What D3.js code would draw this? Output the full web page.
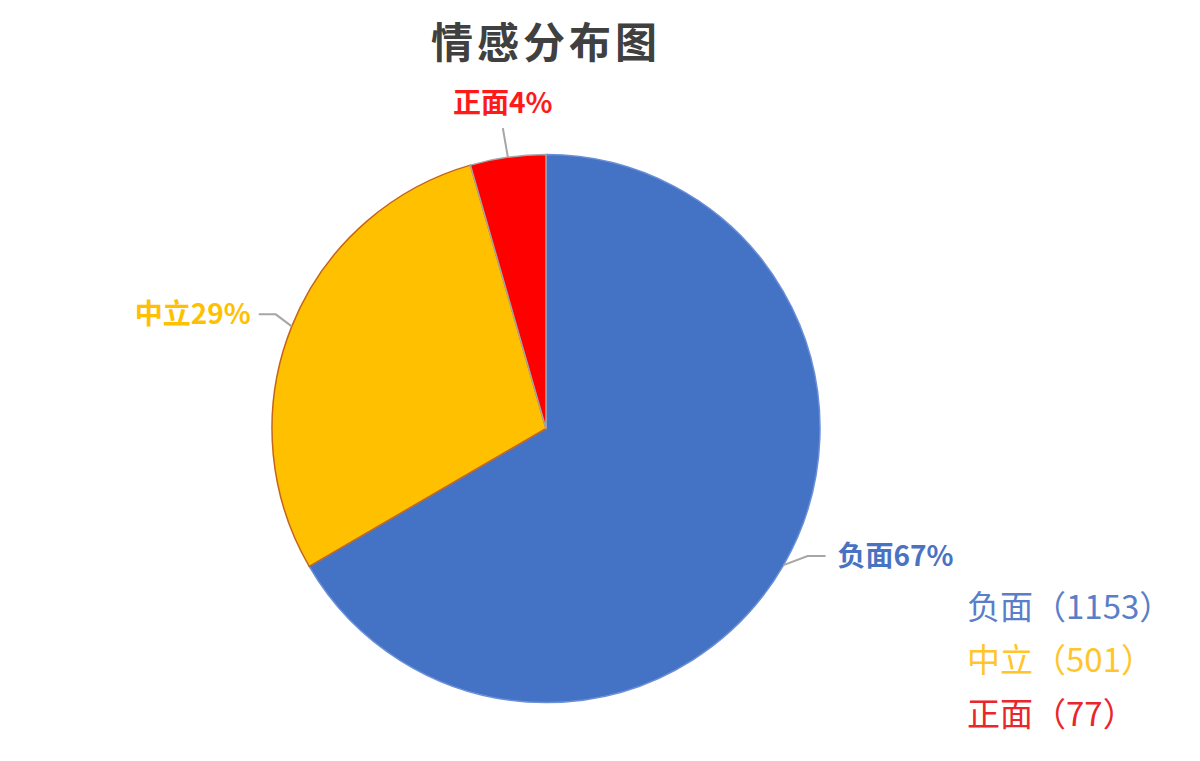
<!DOCTYPE html>
<html>
<head>
<meta charset="utf-8">
<script src="https://cdn.jsdelivr.net/npm/d3@7"></script>
<style>
  html, body { margin: 0; padding: 0; background: #fff; }
  svg { display: block; font-family: "Noto Sans CJK SC", "Noto Sans", sans-serif; }
</style>
</head>
<body>
<svg id="chart" width="1200" height="761"></svg>
<script>
// 数据
var categories = ["负面", "中立", "正面"];
var counts = [1153, 501, 77];
var percentLabels = ["67%", "29%", "4%"];

var fills = ["#4472c4", "#ffc000", "#ff0000"];
var strokes = ["#6a8fd6", "#c5651a", "#a6a6a6"];
var labelColors = ["#4a72c2", "#ffc000", "#ff1a1a"];
var legendColors = ["#5a7fc8", "#ffc52a", "#e8262b"];

var svg = d3.select("#chart");
var cx = 546, cy = 428.5, r = 274;

// 标题
svg.append("text")
  .attr("x", cx)
  .attr("y", 58)
  .attr("text-anchor", "middle")
  .attr("font-size", 42)
  .attr("font-weight", "bold")
  .attr("fill", "#404040")
  .attr("letter-spacing", 4)
  .text("情感分布图");

var pie = d3.pie().sort(null).value(function(d){ return d; });
var arcs = pie(counts);
var arc = d3.arc().innerRadius(0).outerRadius(r);

var g = svg.append("g").attr("transform", "translate(" + cx + "," + cy + ")");

g.selectAll("path")
  .data(arcs)
  .enter()
  .append("path")
  .attr("d", arc)
  .attr("fill", function(d, i){ return fills[i]; })
  .attr("stroke", function(d, i){ return strokes[i]; })
  .attr("stroke-width", 1.5)
  .attr("stroke-linejoin", "round");

// 引导线和标签 (每个扇区的偏移)
var leader = [
  { elbow: [24, -9], end: [18, 0], anchor: "start", tx: 12, ty: 0 },
  { elbow: [-16, -12], end: [-17, 0], anchor: "end", tx: -8, ty: 0 },
  { elbow: [-5, -29], end: null, anchor: "middle", tx: 0, ty: -25 }
];

function edgePoint(d) {
  var a = (d.startAngle + d.endAngle) / 2;
  return [Math.sin(a) * r, -Math.cos(a) * r];
}

arcs.forEach(function(d, i){
  var p0 = edgePoint(d);
  var L = leader[i];
  var p1 = [p0[0] + L.elbow[0], p0[1] + L.elbow[1]];
  var pts = [p0, p1];
  var last = p1;
  if (L.end) {
    last = [p1[0] + L.end[0], p1[1] + L.end[1]];
    pts.push(last);
  }
  g.append("path")
    .attr("d", d3.line()(pts))
    .attr("fill", "none")
    .attr("stroke", "#a6a6a6")
    .attr("stroke-width", 2);

  g.append("text")
    .attr("x", last[0] + L.tx)
    .attr("y", last[1] + L.ty)
    .attr("dy", "0.36em")
    .attr("text-anchor", L.anchor)
    .attr("font-size", 28)
    .attr("font-weight", "bold")
    .attr("fill", labelColors[i])
    .text(categories[i] + percentLabels[i]);
});

// 图例
var legend = svg.append("g").attr("transform", "translate(967,607)");
legend.selectAll("text")
  .data(categories)
  .enter()
  .append("text")
  .attr("x", 0)
  .attr("y", function(d, i){ return i * 53.5; })
  .attr("dy", "0.36em")
  .attr("font-size", 33)
  .attr("fill", function(d, i){ return legendColors[i]; })
  .text(function(d, i){ return d + "（" + counts[i] + "）"; });
</script>
</body>
</html>
